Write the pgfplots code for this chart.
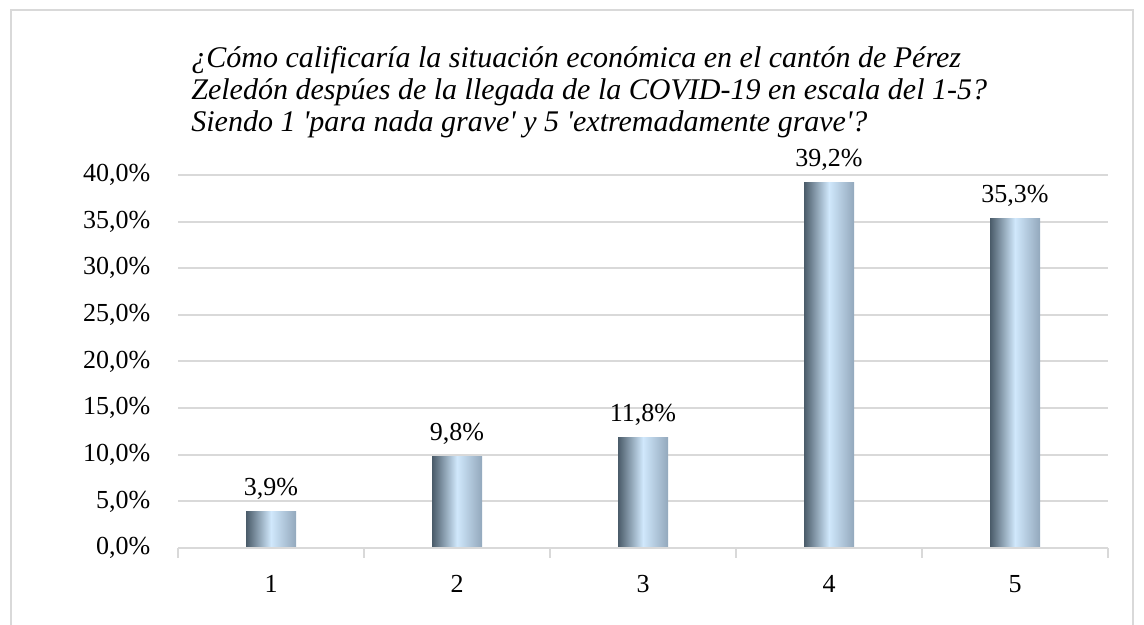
\documentclass[border=0pt]{standalone}
\usepackage{pgfplots}
\pgfplotsset{compat=1.18}
\usepackage{fontspec}
\setmainfont{Liberation Serif}
\definecolor{gridc}{HTML}{D9D9D9}
\definecolor{barDark}{HTML}{4A5B69}
\definecolor{barLight}{HTML}{D0E8FC}
\definecolor{barRight}{HTML}{93A8BC}
\newcommand{\q}{\textquotesingle}
\begin{document}
\begin{tikzpicture}
\useasboundingbox (0,0) rectangle (572pt,312.5pt);
\draw[gridc, line width=1pt] (5.5pt,0) -- (5.5pt,307.5pt) -- (566.5pt,307.5pt) -- (566.5pt,0);
\begin{scope}[every node/.style={anchor=base west, inner sep=0, font=\itshape\fontsize{15}{16}\selectfont}]
\node at (95.5pt,278.5pt) {¿Cómo calificaría la situación económica en el cantón de Pérez};
\node at (95.5pt,262.5pt) {Zeledón despúes de la llegada de la COVID-19 en escala del 1-5?};
\node at (95.5pt,246.5pt) {Siendo 1 \q para nada grave\q{} y 5 \q extremadamente grave\q?};
\end{scope}
\begin{axis}[
  at={(89pt,38.5pt)}, anchor=south west,
  scale only axis, width=465pt, height=186.5pt,
  xmin=0.5, xmax=5.5, ymin=0, ymax=40,
  /pgf/number format/assume math mode=true,
  font=\fontsize{13}{15}\selectfont,
  axis line style={draw=none},
  xtick pos=bottom, ytick pos=left,
  xtick={1,2,3,4,5},
  xticklabels={1,2,3,4,5},
  major x tick style={draw=none},
  minor xtick={0.5,1.5,2.5,3.5,4.5,5.5},
  minor x tick style={draw=gridc, line width=1pt},
  minor tick length=5pt,
  tick align=outside,
  ytick={0,5,...,40},
  major y tick style={draw=none},
  yticklabel={\pgfmathprintnumber[fixed,fixed zerofill,precision=1,use comma]{\tick}\%},
  yticklabel style={xshift=-6pt},
  xticklabel style={yshift=-6pt},
  ymajorgrids,
  grid style={gridc, line width=1pt},
  ybar, bar width=25pt, bar shift=0pt,
  enlarge x limits=false,
  cycle list={{draw=none}},
  nodes near coords={\pgfmathprintnumber[fixed,fixed zerofill,precision=1,use comma]{\pgfplotspointmeta}\%},
  nodes near coords style={font=\fontsize{13}{15}\selectfont, inner sep=6pt, text=black},
  every axis plot/.append style={draw=none, left color=barDark, right color=barRight, middle color=barLight},
  clip=false,
]
\addplot coordinates {(1,3.9)};
\addplot coordinates {(2,9.8)};
\addplot coordinates {(3,11.8)};
\addplot coordinates {(4,39.2)};
\addplot coordinates {(5,35.3)};
\draw[gridc, line width=1pt] (axis cs:0.5,0) -- (axis cs:5.5,0);
\end{axis}
\end{tikzpicture}
\end{document}
